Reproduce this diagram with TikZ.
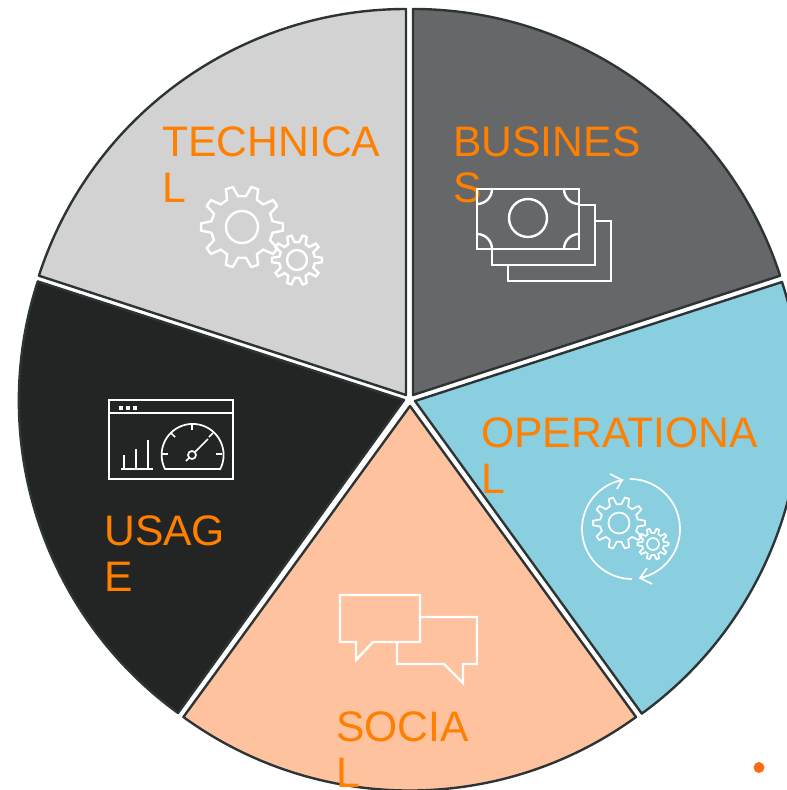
\documentclass[tikz,border=0pt]{standalone}
\usepackage{fontspec}
\setmainfont{Liberation Sans}
\definecolor{techgray}{HTML}{D2D2D2}
\definecolor{busgray}{HTML}{666768}
\definecolor{opblue}{HTML}{89CFDF}
\definecolor{socpeach}{HTML}{FEC29F}
\definecolor{useblack}{HTML}{232524}
\definecolor{rimdark}{HTML}{2D3436}
\definecolor{labelorange}{HTML}{FF7F00}
\definecolor{dotorange}{HTML}{FF6A13}
\tikzset{
	wedge/.style={draw=rimdark, line width=1.8pt, line join=round},
	icon/.style={draw=white, line width=1.8pt, line join=miter},
	iconthin/.style={draw=white, line width=1.3pt},
	label/.style={text=labelorange, font=\fontsize{32}{35}\selectfont, align=left, anchor=north west, inner sep=0pt},
}
% gear: centre, teeth, outer radius, root radius, hole radius
\newcommand{\gearicon}[6][icon]{
	\draw[#1, shift={(#2)}] (0:#4)
	\foreach \i in {1,...,#3} {
		-- ({(\i-1)*360/#3+0.14*360/#3}:#4)
		-- ({(\i-1)*360/#3+0.30*360/#3}:#5)
		-- ({(\i-1)*360/#3+0.70*360/#3}:#5)
		-- ({(\i-1)*360/#3+0.86*360/#3}:#4)
		-- ({\i*360/#3}:#4)
	} -- cycle;
	\draw[#1] (#2) circle (#6);
}
\begin{document}
\begin{tikzpicture}[x=0.75pt, y=-0.75pt]
	\useasboundingbox (0,0) rectangle (787,790);
	\clip (0,0) rectangle (787,790);

	%% Segments
	\draw[wedge, fill=techgray] (406,395) -- (406,9) arc (-90:-162:386) -- cycle;
	\draw[wedge, fill=busgray] (413,395) -- (413,9) arc (-90:-18:386) -- cycle;
	\draw[wedge, fill=opblue] (415,401) -- (782,282) arc (-18:54:386) -- cycle;
	\draw[wedge, fill=socpeach] (410,406) -- (636,717) arc (54:126:385) -- cycle;
	\draw[wedge, fill=useblack] (404,400) -- (178,713) arc (126:198:386) -- cycle;

	%% Labels
	\node[label] (technical) at (162,126) {TECHNICA\\L};
	\node[label] (business) at (453,126) {BUSINES\\S};
	\node[label] (operational) at (481,417) {OPERATIONA\\L};
	\node[label] (usage) at (104,515) {USAG\\E};
	\node[label] (social) at (336,711) {SOCIA\\L};

	%% Technical icon
	\gearicon{242,227}{10}{41}{31}{16}
	\gearicon{297,260}{10}{25}{18}{10}

	%% Business icon
	\draw[icon] (492,249) -- (492,265) -- (595,265) -- (595,205) -- (579,205);
	\draw[icon] (508,265) -- (508,281) -- (611,281) -- (611,221) -- (595,221);
	\draw[icon] (477,189) rectangle (579,249);
	\draw[icon] (528,218) circle (19);
	\draw[icon] (492,189) arc (0:90:15);
	\draw[icon] (564,189) arc (180:90:15);
	\draw[icon] (492,249) arc (0:-90:15);
	\draw[icon] (564,249) arc (180:270:15);

	%% Operational icon
	\gearicon[iconthin]{619,523}{10}{26}{19}{10.5}
	\gearicon[iconthin]{653,544}{10}{15.5}{11}{6}
	\draw[iconthin] (630,479) arc (-90:77:50);
	\draw[iconthin] (632,579) arc (90:260:50);
	\draw[iconthin] (610,474) -- (622,480) -- (617,489);
	\draw[iconthin] (647,568) -- (640,578) -- (652,584);

	%% Usage icon
	\draw[icon] (109,400) rectangle (233,479);
	\draw[iconthin] (109,413) -- (233,413);
	\foreach \x in {121,128,135} {
		\fill[white] (\x-2,406) rectangle (\x+2,410);
	}
	\draw[iconthin] (121,469) -- (153,469);
	\draw[iconthin] (124,469) -- (124,455);
	\draw[iconthin] (136,469) -- (136,449);
	\draw[iconthin] (148,469) -- (148,440);
	\draw[iconthin] (165,469) arc (-207:27:31) -- cycle;
	\draw[iconthin] (192,424) -- (192,430);
	\draw[iconthin] (171,433) -- (175,437);
	\draw[iconthin] (213,433) -- (209,437);
	\draw[iconthin] (162,454) -- (168,454);
	\draw[iconthin] (222,454) -- (216,454);
	\draw[iconthin] (192,455) circle (4);
	\draw[iconthin] (195,452) -- (208,439);
	\draw[iconthin] (189,458) -- (186,461);

	%% Social icon
	\draw[icon] (340,595) -- (420,595) -- (420,642) -- (373,642) -- (356,660) -- (356,642) -- (340,642) -- cycle;
	\draw[icon] (420,617) -- (477,617) -- (477,664) -- (463,664) -- (463,683) -- (444,664) -- (397,664) -- (397,642);

	%% Dot
	\fill[dotorange] (759,767.5) circle (5.5);
\end{tikzpicture}
\end{document}
